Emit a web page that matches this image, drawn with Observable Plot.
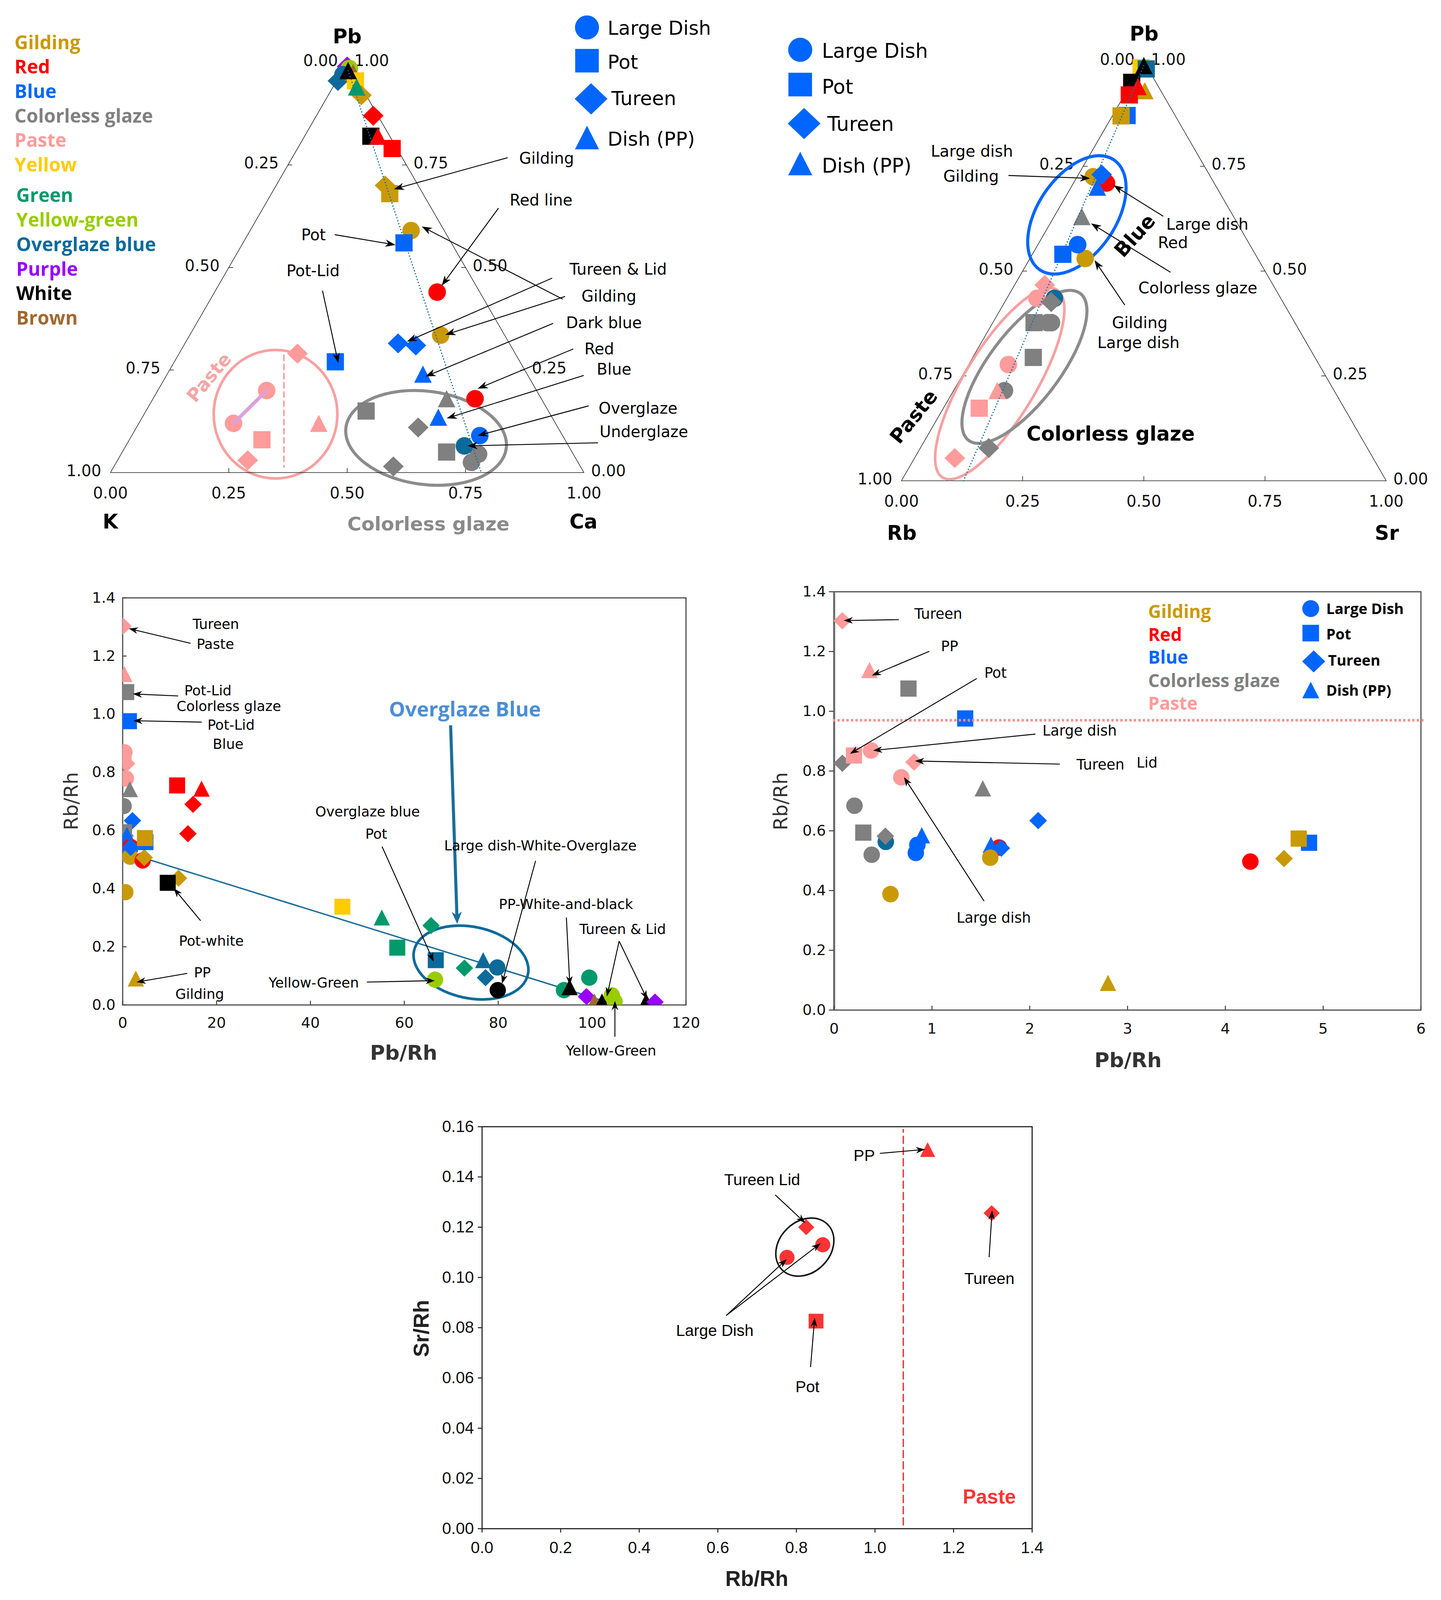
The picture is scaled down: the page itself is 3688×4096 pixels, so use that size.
<!DOCTYPE html>
<html>
<head>
<meta charset="utf-8">
<script src="https://cdn.jsdelivr.net/npm/d3@7"></script>
<script src="https://cdn.jsdelivr.net/npm/@observablehq/plot@0.6"></script>
<style>
  html, body { margin: 0; padding: 0; background: #fff; }
  #root { position: relative; width: 3688px; height: 4096px; overflow: hidden; background: #fff; }
</style>
</head>
<body>
<div id="root"></div>
<script>
// ================= DATA =================
const categoryKeys   = ["Gilding","Red","Blue","Colorless","Paste","Yellow","Green","YellowGreen","Overglaze","Purple","White","Brown"];
const categoryLabels = ["Gilding","Red","Blue","Colorless glaze","Paste","Yellow","Green","Yellow-green","Overglaze blue","Purple","White","Brown"];
const categoryColors = ["#C99A06","#FF0000","#0066FF","#808080","#FF9B9B","#FFCC00","#00996B","#99CC00","#0B6A9A","#9900FF","#000000","#A0692F"];
const shapeKeys   = ["Large","Pot","Tureen","Dish"];
const shapeLabels = ["Large Dish","Pot","Tureen","Dish (PP)"];

// Panel A – ternary Pb / Ca / K : [category, shape, Pb, Ca, K]
const ternaryPbCaK = [
  ["Purple","Tureen",0.99,0.005,0.005],
  ["YellowGreen","Large",0.985,0.012,0.003],
  ["Overglaze","Tureen",0.955,0.003,0.042],
  ["Overglaze","Large",0.97,0.006,0.024],
  ["Brown","Dish",0.975,0.025,0.0],
  ["Yellow","Pot",0.955,0.04,0.005],
  ["Gilding","Tureen",0.92,0.07,0.01],
  ["Green","Dish",0.94,0.05,0.01],
  ["White","Dish",0.98,0.012,0.008],
  ["Red","Tureen",0.87,0.12,0.01],
  ["White","Pot",0.82,0.14,0.04],
  ["Red","Dish",0.82,0.155,0.025],
  ["Red","Pot",0.79,0.20,0.01],
  ["Gilding","Tureen",0.70,0.23,0.07],
  ["Gilding","Pot",0.68,0.25,0.07],
  ["Gilding","Large",0.59,0.34,0.07],
  ["Blue","Pot",0.56,0.34,0.10],
  ["Red","Large",0.44,0.47,0.09],
  ["Gilding","Large",0.335,0.53,0.135],
  ["Blue","Tureen",0.315,0.45,0.235],
  ["Blue","Tureen",0.31,0.49,0.20],
  ["Blue","Dish",0.24,0.54,0.22],
  ["Red","Large",0.18,0.68,0.14],
  ["Colorless","Dish",0.18,0.62,0.20],
  ["Blue","Dish",0.135,0.625,0.24],
  ["Colorless","Pot",0.15,0.465,0.385],
  ["Colorless","Tureen",0.11,0.595,0.295],
  ["Blue","Large",0.09,0.735,0.175],
  ["Colorless","Pot",0.05,0.685,0.265],
  ["Colorless","Large",0.045,0.755,0.20],
  ["Colorless","Large",0.025,0.75,0.225],
  ["Overglaze","Large",0.065,0.715,0.22],
  ["Colorless","Tureen",0.015,0.59,0.395],
  ["Blue","Pot",0.27,0.34,0.39],
  ["Paste","Tureen",0.29,0.25,0.46],
  ["Paste","Large",0.20,0.23,0.57],
  ["Paste","Large",0.12,0.20,0.68],
  ["Paste","Pot",0.08,0.28,0.64],
  ["Paste","Tureen",0.03,0.275,0.695],
  ["Paste","Dish",0.12,0.38,0.50]
];
const trendPbCa = [[0.98,0.012],[0,0.783]];        // dotted trend, [Pb, Ca]
const pasteLinkPbCa = [[0.20,0.23],[0.12,0.20]];    // plum tie line, [Pb, Ca]

// Panel B – ternary Pb / Sr / Rb : [category, shape, Pb, Sr, Rb]
const ternaryPbSrRb = [
  ["Yellow","Pot",0.985,0.002,0.013],
  ["Overglaze","Pot",0.982,0.014,0.004],
  ["White","Dish",0.99,0.005,0.005],
  ["White","Pot",0.95,0.0,0.05],
  ["Gilding","Dish",0.93,0.037,0.033],
  ["Red","Dish",0.94,0.018,0.042],
  ["Red","Pot",0.92,0.01,0.07],
  ["Blue","Pot",0.871,0.03,0.099],
  ["Gilding","Pot",0.87,0.018,0.112],
  ["Red","Large",0.71,0.068,0.222],
  ["Gilding","Large",0.725,0.033,0.242],
  ["Blue","Tureen",0.73,0.048,0.222],
  ["Blue","Dish",0.70,0.054,0.246],
  ["Colorless","Dish",0.63,0.057,0.313],
  ["Gilding","Large",0.53,0.114,0.356],
  ["Blue","Pot",0.54,0.063,0.397],
  ["Blue","Large",0.563,0.082,0.355],
  ["Overglaze","Large",0.435,0.098,0.467],
  ["Paste","Large",0.435,0.062,0.503],
  ["Paste","Tureen",0.467,0.062,0.471],
  ["Colorless","Tureen",0.426,0.096,0.478],
  ["Colorless","Pot",0.377,0.085,0.538],
  ["Colorless","Large",0.377,0.121,0.502],
  ["Colorless","Large",0.377,0.113,0.51],
  ["Colorless","Pot",0.294,0.125,0.581],
  ["Paste","Large",0.277,0.082,0.641],
  ["Colorless","Large",0.215,0.105,0.68],
  ["Paste","Dish",0.215,0.09,0.695],
  ["Paste","Pot",0.173,0.074,0.753],
  ["Colorless","Tureen",0.078,0.141,0.781],
  ["Paste","Tureen",0.054,0.083,0.863]
];
const trendPbSr = [[0.99,0.005],[0,0.128]];
const ternaryTicks = [0, 0.25, 0.5, 0.75, 1];

// Panels C & D – [category, shape, Pb/Rh, Rb/Rh]
const ratioLowPb = [
  ["Paste","Tureen",0.084,1.303],
  ["Paste","Dish",0.361,1.138],
  ["Colorless","Pot",0.76,1.076],
  ["Blue","Pot",1.34,0.976],
  ["Colorless","Tureen",0.084,0.826],
  ["Paste","Pot",0.203,0.852],
  ["Paste","Large",0.377,0.869],
  ["Paste","Tureen",0.817,0.830],
  ["Paste","Large",0.686,0.779],
  ["Colorless","Dish",1.52,0.742],
  ["Colorless","Large",0.208,0.684],
  ["Blue","Tureen",2.086,0.634],
  ["Colorless","Pot",0.298,0.594],
  ["Overglaze","Large",0.528,0.563],
  ["Colorless","Tureen",0.524,0.582],
  ["Colorless","Large",0.384,0.520],
  ["Blue","Dish",0.896,0.585],
  ["Blue","Large",0.851,0.553],
  ["Blue","Large",0.835,0.526],
  ["Red","Large",1.686,0.544],
  ["Blue","Dish",1.603,0.553],
  ["Gilding","Large",1.596,0.510],
  ["Blue","Tureen",1.709,0.542],
  ["Gilding","Large",0.576,0.388],
  ["Gilding","Dish",2.80,0.091],
  ["Red","Large",4.256,0.497],
  ["Gilding","Tureen",4.60,0.507],
  ["Blue","Pot",4.856,0.560],
  ["Gilding","Pot",4.75,0.574]
];
const ratioHighPb = [
  ["Gilding","Tureen",11.9,0.436],
  ["White","Pot",9.6,0.42],
  ["Red","Pot",11.6,0.755],
  ["Red","Dish",16.8,0.744],
  ["Red","Tureen",15.0,0.69],
  ["Red","Tureen",13.9,0.589],
  ["Yellow","Pot",46.8,0.338],
  ["Green","Dish",55.2,0.301],
  ["Green","Pot",58.5,0.197],
  ["Green","Tureen",65.7,0.273],
  ["Overglaze","Pot",66.7,0.154],
  ["YellowGreen","Large",66.55,0.087],
  ["Green","Tureen",72.8,0.127],
  ["Overglaze","Dish",76.8,0.154],
  ["Overglaze","Tureen",77.3,0.094],
  ["Overglaze","Large",79.8,0.129],
  ["White","Large",79.9,0.051],
  ["Green","Large",94.0,0.051],
  ["White","Dish",95.2,0.061],
  ["Green","Large",99.4,0.094],
  ["Purple","Tureen",98.8,0.029],
  ["Brown","Dish",100.5,0.012],
  ["White","Dish",102.1,0.012],
  ["YellowGreen","Large",104.2,0.033],
  ["YellowGreen","Large",104.8,0.012],
  ["White","Dish",111.5,0.012],
  ["Purple","Tureen",113.4,0.010]
];
const trendPbRbRh = [[4.93,0.503],[103.7,0.0076]];
const panelCxTicks = [0,20,40,60,80,100,120];
const panelDxTicks = [0,1,2,3,4,5,6];
const rbRhTicks = [0,0.2,0.4,0.6,0.8,1.0,1.2,1.4];
const pasteRbRhThreshold = 0.97;

// Panel E – paste: [shape, Rb/Rh, Sr/Rh]
const pasteRbSr = [
  ["Large",0.776,0.108],
  ["Tureen",0.825,0.120],
  ["Large",0.867,0.113],
  ["Pot",0.850,0.0826],
  ["Dish",1.134,0.1509],
  ["Tureen",1.297,0.1256]
];
const panelExTicks = [0,0.2,0.4,0.6,0.8,1.0,1.2,1.4];
const panelEyTicks = [0,0.02,0.04,0.06,0.08,0.10,0.12,0.14,0.16];
const pasteRbLimit = 1.072;

// ================= ANNOTATIONS (data coordinates) =================
const annotA = [
  ["Gilding",0.9211,0.765],["Red line",0.9095,0.6634],["Pot",0.4289,0.5791],["Pot-Lid",0.428,0.491],
  ["Tureen & Lid",1.0724,0.495],["Gilding",1.0528,0.4289],["Dark blue",1.0422,0.3647],["Red",1.0323,0.301],
  ["Blue",1.0636,0.2507],["Overglaze",1.1142,0.1557],["Underglaze",1.1265,0.099]
];
const arrowsA = [
  [0.8394,0.7674,0.5991,0.6905],[0.8200,0.6443,0.7000,0.4552],[0.4741,0.5796,0.6024,0.5547],
  [0.4483,0.4428,0.4817,0.2662],[0.9332,0.4736,0.6265,0.3189],[0.9554,0.4224,0.6578,0.5995],
  [0.9606,0.4289,0.7078,0.3356],[0.9353,0.3632,0.6657,0.2338],[0.9780,0.3010,0.7759,0.2040],
  [1.0000,0.2363,0.7106,0.1318],[1.0103,0.1622,0.7759,0.0896],[1.0302,0.0721,0.7543,0.0647]
];
const annotB = [
  ["Large dish",0.1453,0.7847],["Gilding",0.1436,0.7251],["Large dish",0.631,0.6107],["Red",0.56,0.5672],
  ["Colorless glaze",0.6114,0.4591],["Gilding",0.4916,0.3764],["Large dish",0.489,0.3285]
];
const arrowsB = [
  [0.2211,0.7275,0.3895,0.7207],[0.5406,0.6302,0.4379,0.7041],[0.5554,0.4966,0.3916,0.6131],[0.4611,0.4185,0.3987,0.5255]
];
const annotC = [
  ["Tureen",19.85,1.3081],["Paste",19.74,1.2396],["Pot-Lid",18.17,1.0804],["Colorless glaze",22.61,1.0263],
  ["Pot-Lid",23.09,0.9614],["Blue",22.46,0.8961],["Pot-white",18.89,0.2189],["PP",16.98,0.1105],["Gilding",16.41,0.0368],
  ["Yellow-Green",40.70,0.0758],["Overglaze blue",52.17,0.6632],["Pot",54.02,0.5874],
  ["Large dish-White-Overglaze",88.98,0.5463],["PP-White-and-black",94.43,0.3456],["Tureen & Lid",106.52,0.2589],
  ["Yellow-Green",104.04,-0.1582]
];
const arrowsC = [
  [14.5,1.243,1.34,1.294],[11.87,1.062,2.2,1.069],[16.9,0.972,2.3,0.977],[16.65,0.289,10.9,0.401],
  [13.8,0.108,3.0,0.078],[52.06,0.078,66.55,0.083],[55.3,0.544,66.3,0.148],[88.0,0.495,80.85,0.0726],
  [94.56,0.30,95.3,0.067],[105.8,0.219,103.2,0.029],[105.8,0.219,111.8,0.018],[104.9,-0.11,104.9,0.013]
];
const bigArrowC = [[69.9,0.961,71.3,0.278]];
const annotD = [
  ["Tureen",1.065,1.3245],["PP",1.180,1.2165],["Pot",1.650,1.1279],["Large dish",2.510,0.9338],
  ["Tureen",2.723,0.8197],["Lid",3.199,0.8264],["Large dish",1.632,0.3076]
];
const arrowsD = [
  [0.664,1.306,0.099,1.303],[0.975,1.200,0.388,1.119],[1.46,1.109,0.163,0.857],
  [2.06,0.923,0.40,0.868],[2.31,0.8225,0.828,0.833],[1.535,0.364,0.716,0.779]
];
const annotE = [
  ["Tureen Lid",0.7128,0.1388],["Large Dish",0.5922,0.0787],["PP",0.9727,0.1484],["Pot",0.8280,0.0564],["Tureen",1.2910,0.0995]
];
const arrowsE = [
  [0.7466,0.1328,0.823,0.1216],[0.622,0.0848,0.776,0.1072],[0.622,0.0848,0.862,0.1135],
  [1.013,0.1493,1.128,0.1509],[0.8365,0.0642,0.847,0.0839],[1.291,0.108,1.2986,0.1266]
];

// ================= LAYOUT =================
const S = 3688 / 1412;
const px = v => v * S;
const FONT_DV = "DejaVu Sans", FONT_OS = "Open Sans", FONT_LS = "Liberation Sans";
const GEO = {
  A: {left: 0,   top: 0,    width: 730, height: 545, x: [108, 572],  y: [463, 61],    xd: [0, 1],   yd: [0, 1]},
  B: {left: 730, top: 0,    width: 682, height: 545, x: [883, 1358], y: [471, 60],    xd: [0, 1],   yd: [0, 1]},
  C: {left: 0,   top: 545,  width: 720, height: 520, x: [120, 672],  y: [985, 586],   xd: [0, 120], yd: [0, 1.4]},
  D: {left: 720, top: 545,  width: 692, height: 520, x: [817, 1392], y: [990, 580],   xd: [0, 6],   yd: [0, 1.4]},
  E: {left: 380, top: 1065, width: 660, height: 503, x: [472, 1011], y: [1498, 1104], xd: [0, 1.4], yd: [0, 0.16]}
};
function frameOpts(g) {
  return {
    width: px(g.width), height: px(g.height),
    marginLeft: px(g.x[0] - g.left), marginRight: px(g.left + g.width - g.x[1]),
    marginTop: px(g.y[1] - g.top), marginBottom: px(g.top + g.height - g.y[0])
  };
}
function inv(g, sx, sy) {
  return [g.xd[0] + (sx - g.x[0]) / (g.x[1] - g.x[0]) * (g.xd[1] - g.xd[0]),
          g.yd[0] + (sy - g.y[0]) / (g.y[1] - g.y[0]) * (g.yd[1] - g.yd[0])];
}
function mount(svg, g) {
  svg.style.position = "absolute";
  svg.style.left = px(g.left) + "px";
  svg.style.top = px(g.top) + "px";
  document.getElementById("root").appendChild(svg);
}
const baseStyle = {fontFamily: FONT_DV, background: "transparent", overflow: "visible", color: "#000"};

// ---- symbols ----
function shapePath(ctx, kind, r, diamond) {
  if (kind === "Large") { ctx.moveTo(r, 0); ctx.arc(0, 0, r, 0, 2 * Math.PI); ctx.closePath(); }
  else if (kind === "Pot") { const a = r * 0.98; ctx.moveTo(-a, -a); ctx.lineTo(a, -a); ctx.lineTo(a, a); ctx.lineTo(-a, a); ctx.closePath(); }
  else if (kind === "Tureen") { const w = r * diamond[0], h = r * diamond[1]; ctx.moveTo(-w, 0); ctx.lineTo(0, -h); ctx.lineTo(w, 0); ctx.lineTo(0, h); ctx.closePath(); }
  else { const w = r * 1.0, h = r * 0.98; ctx.moveTo(0, -h); ctx.lineTo(w, h); ctx.lineTo(-w, h); ctx.closePath(); }
}
const makeSymbol = (kind, diamond) => ({draw(ctx, size) { shapePath(ctx, kind, Math.sqrt(size / Math.PI), diamond); }});
const legendSymbol = kind => makeSymbol(kind, [1.36, 1.3]);
const symbolScaleWith = diamond => ({domain: shapeKeys, range: shapeKeys.map(k => makeSymbol(k, diamond))});
const ternarySymbols = symbolScaleWith([1.18, 1.14]);
const ratioSymbols = symbolScaleWith([1.07, 1.05]);
const colorScale = {type: "ordinal", domain: categoryKeys, range: categoryColors};

// ---- render helpers (use the plot's scales) ----
function ellipses(list) {
  return (index, scales) => {
    const g = d3.create("svg:g");
    for (const e of list) {
      const cx = scales.x(e.x), cy = scales.y(e.y);
      g.append("ellipse").attr("cx", cx).attr("cy", cy).attr("rx", px(e.rx)).attr("ry", px(e.ry))
        .attr("transform", `rotate(${e.angle} ${cx} ${cy})`)
        .attr("fill", "none").attr("stroke", e.stroke).attr("stroke-width", px(e.width));
    }
    return g.node();
  };
}
function arrows(list, {stroke = "#000", width = 0.9, head = 10, half = 3.6} = {}) {
  return (index, scales) => {
    const g = d3.create("svg:g");
    for (const [a, b, c, d] of list) {
      const x1 = scales.x(a), y1 = scales.y(b), x2 = scales.x(c), y2 = scales.y(d);
      const ang = Math.atan2(y2 - y1, x2 - x1), ux = Math.cos(ang), uy = Math.sin(ang);
      const L = px(head), H = px(half);
      const bx = x2 - ux * L, by = y2 - uy * L, nx = x2 - ux * L * 0.7, ny = y2 - uy * L * 0.7;
      g.append("line").attr("x1", x1).attr("y1", y1).attr("x2", nx).attr("y2", ny)
        .attr("stroke", stroke).attr("stroke-width", px(width));
      g.append("path").attr("d", `M${x2},${y2}L${bx - uy * H},${by + ux * H}L${nx},${ny}L${bx + uy * H},${by - ux * H}Z`)
        .attr("fill", stroke);
    }
    return g.node();
  };
}
const labels = (list, opts) => Plot.text(list, {x: d => d[1], y: d => d[2], text: d => d[0], ...opts});
const dotted = {stroke: "#1F6FA0", strokeWidth: px(1.3), strokeLinecap: "round", strokeDasharray: `0.1 ${px(3)}`};

// ---- ternary frame ----
function ternaryFrameMarks() {
  const verts = [[0, 0], [1, 0], [0, 1], [0, 0]].map(([pb, b]) => [b + pb / 2, pb]);
  const inner = ternaryTicks.filter(t => t > 0 && t < 1);
  const fmt = d3.format(".2f");
  const line = {stroke: "#222", strokeWidth: px(0.6)};
  const txt = {fontFamily: FONT_DV, fontSize: px(15.3), fill: "#111"};
  return [
    Plot.line(verts, {x: d => d[0], y: d => d[1], ...line}),
    Plot.link(inner, {x1: t => (1 - t) / 2, y1: t => 1 - t, x2: t => (1 - t) / 2 + 0.009, y2: t => 1 - t, ...line}),
    Plot.link(inner, {x1: t => t, y1: 0, x2: t => t, y2: 0.011, ...line}),
    Plot.link(inner, {x1: t => 1 - t / 2, y1: t => t, x2: t => 1 - t / 2 - 0.009, y2: t => t, ...line}),
    Plot.text(ternaryTicks, {x: t => (1 - t) / 2, y: t => 1 - t, text: fmt, textAnchor: "end", dx: -px(9), dy: -px(1.5), ...txt}),
    Plot.text(ternaryTicks, {x: t => t, y: 0, text: fmt, dy: px(20.5), ...txt}),
    Plot.text(ternaryTicks, {x: t => 1 - t / 2, y: t => t, text: fmt, textAnchor: "start", dx: px(7), dy: -px(1.5), ...txt})
  ];
}
function shapeLegend(g, mk, tx, r, textOpts) {
  const marks = [];
  shapeKeys.forEach((k, i) => {
    const [x, y] = inv(g, mk[i][0], mk[i][1]);
    marks.push(Plot.dot([0], {x: () => x, y: () => y, r: px(r), symbol: legendSymbol(k), fill: "#0066FF", stroke: "none"}));
  });
  const items = shapeLabels.map((s, i) => { const [x, y] = inv(g, tx[i][0], tx[i][1]); return [s, x, y]; });
  marks.push(labels(items, {textAnchor: "start", ...textOpts}));
  return marks;
}

// ================= PANEL A =================
{
  const g = GEO.A;
  const pts = ternaryPbCaK.map(([cat, shape, pb, ca]) => ({cat, shape, x: ca + pb / 2, y: pb}));
  const trend = trendPbCa.map(([pb, ca]) => [ca + pb / 2, pb]);
  const tie = pasteLinkPbCa.map(([pb, ca]) => [ca + pb / 2, pb]);
  const divider = [inv(g, 278, 348), inv(g, 278, 457.5)];
  const ell = [
    {x: inv(g, 270, 406)[0], y: inv(g, 270, 406)[1], rx: 60.6, ry: 63, angle: 0, stroke: "#F7A1A1", width: 2.6},
    {x: inv(g, 417.5, 429.2)[0], y: inv(g, 417.5, 429.2)[1], rx: 79.2, ry: 45.7, angle: 7.4, stroke: "#8C8C8C", width: 3}
  ];
  const colorLegend = categoryKeys.map((k, i) => {
    const [x, y] = inv(g, i < 6 ? 14 : 15.7, 42 + 24 * i + (i >= 6 ? 6 : 0));
    return {k, label: categoryLabels[i], x, y};
  });
  const plot = Plot.plot({
    ...frameOpts(g), style: baseStyle,
    x: {domain: g.xd, axis: null}, y: {domain: g.yd, axis: null},
    color: colorScale, symbol: ternarySymbols,
    marks: [
      ellipses(ell),
      ...ternaryFrameMarks(),
      Plot.line(divider, {x: d => d[0], y: d => d[1], stroke: "#F4A0A0", strokeWidth: px(1.6), strokeDasharray: `${px(5)} ${px(4)}`}),
      Plot.dot(pts, {x: "x", y: "y", r: px(8.6), symbol: "shape", fill: "cat", stroke: "none"}),
      Plot.line(tie, {x: d => d[0], y: d => d[1], stroke: "#DDA0DD", strokeWidth: px(3.5), strokeLinecap: "round"}),
      Plot.line(trend, {x: d => d[0], y: d => d[1], ...dotted}),
      arrows(arrowsA),
      labels(annotA, {fontFamily: FONT_DV, fontSize: px(15.3)}),
      labels([["Pb", 0.5, 1.062], ["K", 0, -0.121], ["Ca", 0.999, -0.121]], {fontFamily: FONT_DV, fontWeight: "bold", fontSize: px(19.5)}),
      labels([["Colorless glaze", 0.6716, -0.1266]], {fontFamily: FONT_DV, fontWeight: "bold", fontSize: px(18.7), fill: "#8A8A8A"}),
      labels([["Paste", 0.209, 0.2313]], {fontFamily: FONT_DV, fontWeight: "bold", fontSize: px(18), fill: "#F4A6A6", rotate: -50}),
      Plot.text(colorLegend, {x: "x", y: "y", text: "label", fill: "k", textAnchor: "start", fontFamily: FONT_OS, fontWeight: "bold", fontSize: px(18.5)}),
      ...shapeLegend(g, [[575,26.7],[575,59.3],[579,96.7],[575,134.6]], [[595.2,27.7],[595.2,61],[598.9,96.7],[595.2,136.6]], 11.8,
        {fontFamily: FONT_DV, fontSize: px(19)})
    ]
  });
  mount(plot, g);
}

// ================= PANEL B =================
{
  const g = GEO.B;
  const pts = ternaryPbSrRb.map(([cat, shape, pb, sr]) => ({cat, shape, x: sr + pb / 2, y: pb}));
  const trend = trendPbSr.map(([pb, sr]) => [sr + pb / 2, pb]);
  const E = (sx, sy, rx, ry, angle, stroke, width) => { const [x, y] = inv(g, sx, sy); return {x, y, rx, ry, angle, stroke, width}; };
  const ell = [
    E(1055.1, 210.6, 65, 38.3, -56.1, "#0066FF", 3),
    E(979.5, 376, 107.7, 34.7, -58.7, "#F7A1A1", 2.6),
    E(1003.7, 359.6, 90.4, 34.7, -52.8, "#8C8C8C", 3)
  ];
  const plot = Plot.plot({
    ...frameOpts(g), style: baseStyle,
    x: {domain: g.xd, axis: null}, y: {domain: g.yd, axis: null},
    color: colorScale, symbol: ternarySymbols,
    marks: [
      ...ternaryFrameMarks(),
      ellipses(ell),
      Plot.dot(pts, {x: "x", y: "y", r: px(8.6), symbol: "shape", fill: "cat", stroke: "none"}),
      Plot.line(trend, {x: d => d[0], y: d => d[1], ...dotted}),
      arrows(arrowsB),
      labels(annotB, {fontFamily: FONT_DV, fontSize: px(15.5)}),
      labels([["Pb", 0.5005, 1.0652], ["Rb", 0.0008, -0.1258], ["Sr", 1.0013, -0.1258]], {fontFamily: FONT_DV, fontWeight: "bold", fontSize: px(19.5)}),
      labels([["Blue", 0.4821, 0.5839]], {fontFamily: FONT_DV, fontWeight: "bold", fontSize: px(19.5), rotate: -48}),
      labels([["Paste", 0.0259, 0.1523]], {fontFamily: FONT_DV, fontWeight: "bold", fontSize: px(19.5), rotate: -51}),
      labels([["Colorless glaze", 0.4316, 0.1107]], {fontFamily: FONT_DV, fontWeight: "bold", fontSize: px(19.4)}),
      ...shapeLegend(g, [[783.8,48.6],[783.8,82.7],[787.6,120.9],[783.8,160.1]], [[805,50.3],[805,85.4],[810.4,121.9],[805,162.9]], 11.8,
        {fontFamily: FONT_DV, fontSize: px(19.5)})
    ]
  });
  mount(plot, g);
}

// ================= PANEL C =================
{
  const g = GEO.C;
  const pts = [...ratioLowPb, ...ratioHighPb].map(([cat, shape, x, y]) => ({cat, shape, x, y}));
  const [ex, ey] = inv(g, 461.5, 943.6);
  const tick = {stroke: "#444", strokeWidth: px(1)};
  const plot = Plot.plot({
    ...frameOpts(g), style: baseStyle,
    x: {domain: g.xd}, y: {domain: g.yd},
    color: colorScale, symbol: ratioSymbols,
    marks: [
      Plot.frame({stroke: "#555", strokeWidth: px(1.2)}),
      Plot.ruleX(panelCxTicks, {x: d => d, y1: 0, y2: 0.014, ...tick}),
      Plot.ruleY(rbRhTicks, {y: d => d, x1: 0, x2: 0.87, ...tick}),
      Plot.axisX(panelCxTicks, {anchor: "bottom", tickSize: 0, tickPadding: px(12), fontSize: px(14.5), fontFamily: FONT_DV, color: "#111", label: null, tickFormat: d3.format("d")}),
      Plot.axisY(rbRhTicks, {anchor: "left", tickSize: 0, tickPadding: px(7), fontSize: px(14.5), fontFamily: FONT_DV, color: "#111", label: null, tickFormat: d3.format(".1f")}),
      Plot.line(trendPbRbRh, {x: d => d[0], y: d => d[1], stroke: "#1A6E9A", strokeWidth: px(1.4)}),
      ellipses([{x: ex, y: ey, rx: 57, ry: 35, angle: 11.7, stroke: "#0B6A9A", width: 2.6}]),
      Plot.dot(pts, {x: "x", y: "y", r: px(8), symbol: "shape", fill: "cat", stroke: "none", clip: true}),
      arrows(arrowsC, {head: 9, half: 3.2}),
      arrows(bigArrowC, {stroke: "#1A6E9A", width: 3, head: 12, half: 5}),
      labels(annotC, {fontFamily: FONT_DV, fontSize: px(13.6)}),
      labels([["Overglaze Blue", 72.91, 1.0154]], {fontFamily: FONT_OS, fontWeight: "bold", fontSize: px(20), fill: "#4A8FD6"}),
      labels([["Rb/Rh", -10.87, 0.701]], {fontFamily: FONT_DV, fontSize: px(19), fill: "#333", rotate: -90}),
      labels([["Pb/Rh", 59.85, -0.166]], {fontFamily: FONT_DV, fontWeight: "bold", fontSize: px(20), fill: "#333"})
    ]
  });
  mount(plot, g);
}

// ================= PANEL D =================
{
  const g = GEO.D;
  const pts = ratioLowPb.map(([cat, shape, x, y]) => ({cat, shape, x, y}));
  const tick = {stroke: "#444", strokeWidth: px(1)};
  const colorLegend = categoryKeys.slice(0, 5).map((k, i) => {
    const [x, y] = inv(g, 1124.7, [599.9, 622.7, 644.8, 667.8, 690][i]);
    return {k, label: categoryLabels[i], x, y};
  });
  const plot = Plot.plot({
    ...frameOpts(g), style: baseStyle,
    x: {domain: g.xd}, y: {domain: g.yd},
    color: colorScale, symbol: ratioSymbols,
    marks: [
      Plot.frame({stroke: "#555", strokeWidth: px(1.2)}),
      Plot.ruleX([0], {stroke: "#6a6a6a", strokeWidth: px(2)}),
      Plot.ruleX(panelDxTicks, {x: d => d, y1: 0, y2: 0.0137, ...tick}),
      Plot.ruleY(rbRhTicks, {y: d => d, x1: -0.052, x2: 0, ...tick}),
      Plot.axisX(panelDxTicks, {anchor: "bottom", tickSize: 0, tickPadding: px(12.6), fontSize: px(14.5), fontFamily: FONT_DV, color: "#111", label: null, tickFormat: d3.format("d")}),
      Plot.axisY(rbRhTicks, {anchor: "left", tickSize: 0, tickPadding: px(8), fontSize: px(14.5), fontFamily: FONT_DV, color: "#111", label: null, tickFormat: d3.format(".1f")}),
      Plot.dot(pts, {x: "x", y: "y", r: px(8.1), symbol: "shape", fill: "cat", stroke: "none"}),
      Plot.ruleY([pasteRbRhThreshold], {x1: -0.01, x2: 6.03, stroke: "#F49090", strokeWidth: px(2.6), strokeDasharray: `${px(2.2)} ${px(2.2)}`}),
      arrows(arrowsD, {head: 9, half: 3.2}),
      labels(annotD, {fontFamily: FONT_DV, fontSize: px(14)}),
      Plot.text(colorLegend, {x: "x", y: "y", text: "label", fill: "k", textAnchor: "start", fontFamily: FONT_OS, fontWeight: "bold", fontSize: px(17.6)}),
      ...shapeLegend(g, [[1284,596.5],[1284,620.5],[1286.9,648.3],[1284,676.3]], [[1299.2,597.4],[1299.2,622],[1301,647.9],[1299.2,677.3]], 8.3,
        {fontFamily: FONT_OS, fontWeight: "bold", fontSize: px(14.5)}),
      labels([["Rb/Rh", -0.5426, 0.699]], {fontFamily: FONT_DV, fontSize: px(19), fill: "#333", rotate: -90}),
      labels([["Pb/Rh", 3.0052, -0.169]], {fontFamily: FONT_DV, fontWeight: "bold", fontSize: px(20), fill: "#333"})
    ]
  });
  mount(plot, g);
}

// ================= PANEL E =================
{
  const g = GEO.E;
  const pts = pasteRbSr.map(([shape, x, y]) => ({shape, x, y}));
  const tick = {stroke: "#222", strokeWidth: px(1)};
  const plot = Plot.plot({
    ...frameOpts(g), style: baseStyle,
    x: {domain: g.xd}, y: {domain: g.yd},
    symbol: ratioSymbols,
    marks: [
      Plot.frame({stroke: "#222", strokeWidth: px(1.1)}),
      Plot.ruleX(panelExTicks, {x: d => d, y1: -0.0016, y2: 0, ...tick}),
      Plot.ruleY(panelEyTicks, {y: d => d, x1: -0.0104, x2: 0, ...tick}),
      Plot.axisX(panelExTicks, {anchor: "bottom", tickSize: 0, tickPadding: px(12.6), fontSize: px(16), fontFamily: FONT_LS, color: "#111", label: null, tickFormat: d3.format(".1f")}),
      Plot.axisY(panelEyTicks, {anchor: "left", tickSize: 0, tickPadding: px(8), fontSize: px(16), fontFamily: FONT_LS, color: "#111", label: null, tickFormat: d3.format(".2f")}),
      Plot.ruleX([pasteRbLimit], {y1: 0.0012, y2: 0.159, stroke: "#E83030", strokeWidth: px(1.3), strokeDasharray: `${px(8)} ${px(3)}`}),
      ellipses([{x: 0.822, y: 0.112, rx: 31.5, ry: 25, angle: -45, stroke: "#111", width: 1.5}]),
      Plot.dot(pts, {x: "x", y: "y", r: px(7.4), symbol: "shape", fill: "#FF3333", stroke: "none"}),
      arrows(arrowsE, {head: 9, half: 3.2}),
      labels(annotE, {fontFamily: FONT_LS, fontSize: px(15.7)}),
      labels([["Paste", 1.291, 0.0126]], {fontFamily: FONT_LS, fontWeight: "bold", fontSize: px(19.5), fill: "#FF3333"}),
      labels([["Rb/Rh", 0.6992, -0.0200]], {fontFamily: FONT_LS, fontWeight: "bold", fontSize: px(21), fill: "#222"}),
      labels([["Sr/Rh", -0.1535, 0.0797]], {fontFamily: FONT_LS, fontWeight: "bold", fontSize: px(21), fill: "#222", rotate: -90})
    ]
  });
  mount(plot, g);
}
</script>
</body>
</html>
